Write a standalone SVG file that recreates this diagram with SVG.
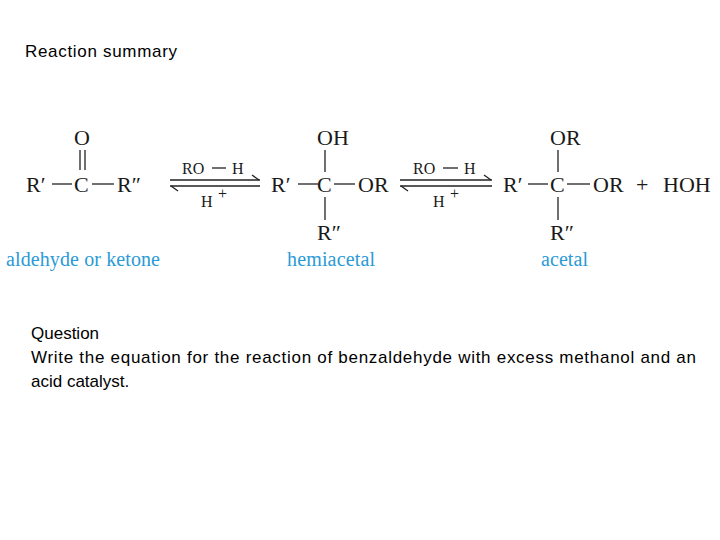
<svg xmlns="http://www.w3.org/2000/svg" width="720" height="540" viewBox="0 0 720 540">
<style>
.t{font-family:"Liberation Sans",Arial,sans-serif;font-size:17px;fill:#000}
.c{font-family:"Liberation Serif","Times New Roman",serif;font-size:22px;fill:#1a1a1a}
.s{font-family:"Liberation Serif","Times New Roman",serif;font-size:16px;fill:#1a1a1a}
.b{font-family:"Liberation Serif","Times New Roman",serif;font-size:20px;fill:#2b9ad6}
line{stroke:#222;stroke-width:1.3}
</style>
<rect width="720" height="540" fill="#fff"/>
<text class="t" x="25" y="57" textLength="152">Reaction summary</text>
<g id="carbonyl">
<text class="c" x="74" y="145">O</text>
<line x1="80" y1="150" x2="80" y2="170"/><line x1="85" y1="150" x2="85" y2="170"/>
<text class="c" x="26" y="192">R′</text><line x1="52" y1="184" x2="72" y2="184"/>
<text class="c" x="74" y="192">C</text><line x1="92" y1="184" x2="114" y2="184"/>
<text class="c" x="117" y="192">R″</text>
<text class="b" x="6" y="266" textLength="154">aldehyde or ketone</text>
</g>
<g id="arrows">
<line x1="170" y1="180" x2="260" y2="180"/><line x1="252" y1="175" x2="259" y2="180"/>
<line x1="170" y1="186" x2="260" y2="186"/><line x1="171" y1="186" x2="178" y2="191"/>
<text class="s" x="182" y="174">RO</text><line x1="212" y1="168" x2="226" y2="168"/><text class="s" x="232" y="174">H</text>
<text class="s" x="201" y="207">H</text><text class="s" x="218" y="199" font-size="12">+</text>
<line x1="400" y1="180" x2="492" y2="180"/><line x1="484" y1="175" x2="491" y2="180"/>
<line x1="400" y1="186" x2="492" y2="186"/><line x1="401" y1="186" x2="408" y2="191"/>
<text class="s" x="413" y="174">RO</text><line x1="443" y1="168" x2="458" y2="168"/><text class="s" x="464" y="174">H</text>
<text class="s" x="433" y="207">H</text><text class="s" x="450" y="199" font-size="12">+</text>
</g>
<g id="hemiacetal">
<text class="c" x="317" y="145">OH</text>
<line x1="325" y1="150" x2="325" y2="172"/>
<text class="c" x="271" y="192">R′</text><line x1="298" y1="184" x2="318" y2="184"/>
<text class="c" x="317" y="192">C</text><line x1="334" y1="184" x2="355" y2="184"/>
<text class="c" x="358" y="192">OR</text>
<line x1="325" y1="197" x2="325" y2="220"/>
<text class="c" x="317" y="240">R″</text>
<text class="b" x="287" y="266" textLength="88">hemiacetal</text>
</g>
<g id="acetal">
<text class="c" x="550" y="145">OR</text>
<line x1="558" y1="150" x2="558" y2="172"/>
<text class="c" x="503" y="192">R′</text><line x1="528" y1="184" x2="548" y2="184"/>
<text class="c" x="550" y="192">C</text><line x1="567" y1="184" x2="590" y2="184"/>
<text class="c" x="593" y="192">OR</text>
<text class="c" x="636" y="192">+</text>
<text class="c" x="663" y="192">HOH</text>
<line x1="558" y1="197" x2="558" y2="220"/>
<text class="c" x="550" y="240">R″</text>
<text class="b" x="541" y="266" textLength="47">acetal</text>
</g>
<text class="t" x="31" y="339">Question</text>
<text class="t" x="31" y="363" textLength="665">Write the equation for the reaction of benzaldehyde with excess methanol and an</text>
<text class="t" x="31" y="387">acid catalyst.</text>
</svg>
